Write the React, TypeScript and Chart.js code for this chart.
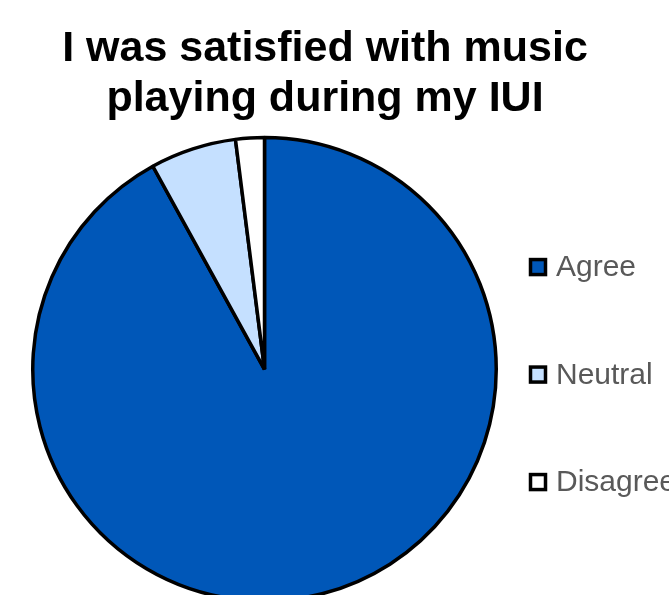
import React, { useEffect, useRef } from "react";
import { Chart, registerables, layouts } from "chart.js";

Chart.register(...registerables);

const titleLines = ["I was satisfied with music", "playing during my IUI"];
const categories = ["Agree", "Neutral", "Disagree"];
const values = [92, 6, 2];
const sliceColors = ["#0057B8", "#C5E0FF", "#FFFFFF"];

const FONT = "'Liberation Sans', Arial, sans-serif";

const sideLegendPlugin = {
  id: "sideLegend",
  beforeInit(chart: any) {
    const box: any = {
      position: "right",
      weight: 1000,
      fullSize: false,
      options: {},
      left: 0,
      top: 0,
      right: 0,
      bottom: 0,
      width: 0,
      height: 0,
      isHorizontal() {
        return false;
      },
      update(maxWidth: number, maxHeight: number) {
        this.width = 121;
        this.height = maxHeight;
      },
      draw() {
        const ctx = chart.ctx;
        const ds = chart.data.datasets[0];
        const labels = chart.data.labels as string[];
        const cy = this.top + this.height / 2 + 5.25;
        ctx.save();
        labels.forEach((label, i) => {
          const y = cy + (i - 1) * 107.5;
          const bx = this.left + 32.5;
          ctx.fillStyle = ds.backgroundColor[i];
          ctx.fillRect(bx, y - 7.5, 15, 15);
          ctx.lineWidth = 3.5;
          ctx.strokeStyle = "#000000";
          ctx.strokeRect(bx, y - 7.5, 15, 15);
          ctx.fillStyle = "#595959";
          ctx.font = `30px ${FONT}`;
          ctx.textAlign = "left";
          ctx.textBaseline = "middle";
          ctx.fillText(label, this.left + 58, y + 1);
        });
        ctx.restore();
      },
    };
    layouts.addBox(chart, box);
  },
};

export default function App() {
  const canvasRef = useRef<HTMLCanvasElement | null>(null);

  useEffect(() => {
    if (!canvasRef.current) return;
    const chart = new Chart(canvasRef.current, {
      type: "pie",
      data: {
        labels: categories,
        datasets: [
          {
            data: values,
            backgroundColor: sliceColors,
            borderColor: "#000000",
            borderWidth: 3.5,
            hoverOffset: 0,
          },
        ],
      },
      options: {
        responsive: false,
        animation: false,
        devicePixelRatio: 1,
        layout: { padding: { left: 31, right: 50, top: 0, bottom: 0 } },
        plugins: {
          legend: { display: false },
          tooltip: { enabled: false },
          title: {
            display: true,
            text: titleLines,
            color: "#000000",
            font: { family: FONT, size: 43, weight: "bold", lineHeight: 1.17 },
            padding: { top: 24, bottom: 11 },
          },
        },
        events: [],
      },
      plugins: [sideLegendPlugin],
    });
    return () => chart.destroy();
  }, []);

  return (
    <div
      style={{
        position: "fixed",
        left: 0,
        top: 0,
        width: 669,
        height: 595,
        overflow: "hidden",
        background: "#ffffff",
      }}
    >
      <canvas ref={canvasRef} width={669} height={603} style={{ display: "block" }} />
    </div>
  );
}
